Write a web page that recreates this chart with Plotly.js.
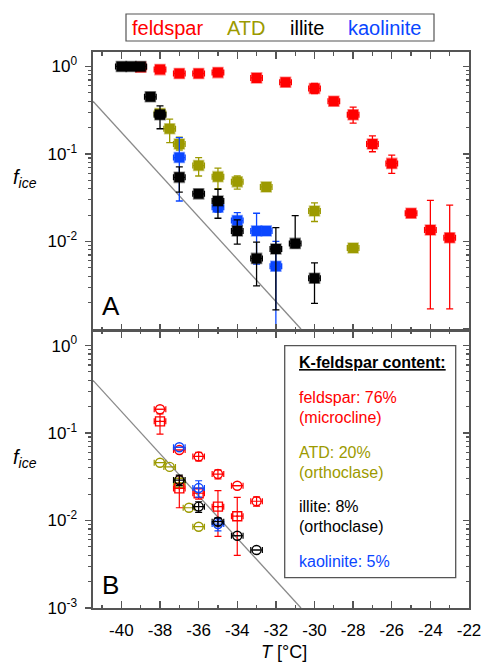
<!DOCTYPE html>
<html><head><meta charset="utf-8">
<script src="https://cdn.plot.ly/plotly-3.0.1.min.js"></script>
<style>html,body{margin:0;padding:0;background:#fff}</style>
</head><body><div id="chart" style="width:483px;height:668px"></div>
<script>
// ---------- Panel A data (filled squares) ----------
const feldA_T = [-39, -38, -37, -36, -35, -33, -31.5, -30, -29, -28, -27, -26, -25, -24, -23];
const feldA_f = [0.98, 0.92, 0.83, 0.83, 0.85, 0.74, 0.66, 0.56, 0.40, 0.28, 0.13, 0.078, 0.021, 0.0135, 0.011];
const feldA_ep = [0.02, 0.03, 0.04, 0.04, 0.04, 0.04, 0.04, 0.08, 0.04, 0.063, 0.031, 0.019, 0.002, 0.016, 0.015];
const feldA_em = [0.02, 0.03, 0.04, 0.04, 0.04, 0.04, 0.04, 0.07, 0.04, 0.055, 0.024, 0.018, 0.002, 0.0118, 0.0093];

const atdA_T = [-38, -37.5, -37, -36, -35, -34, -32.5, -30, -28];
const atdA_f = [0.29, 0.194, 0.13, 0.0737, 0.055, 0.048, 0.042, 0.0223, 0.0084];
const atdA_ep = [0.03, 0.056, 0.026, 0.017, 0.014, 0.008, 0.004, 0.0053, 0.0006];
const atdA_em = [0.03, 0.059, 0.019, 0.0177, 0.015, 0.0084, 0.004, 0.0054, 0.0006];

const kaoA_T = [-37, -35, -34, -33, -32.5, -32];
const kaoA_f = [0.091, 0.0246, 0.0173, 0.0132, 0.0132, 0.0052];
const kaoA_ep = [0.063, 0.003, 0.004, 0.0078, 0.001, 0.0048];
const kaoA_em = [0.062, 0.003, 0.003, 0.0077, 0.001, 0.0043];

const illA_T = [-40, -39.5, -39, -38.5, -38, -37, -36, -35, -34, -33, -32, -31, -30];
const illA_f = [1.0, 1.0, 1.0, 0.45, 0.28, 0.054, 0.035, 0.029, 0.0132, 0.0064, 0.0082, 0.0095, 0.0038];
const illA_ep = [0.01, 0.01, 0.01, 0.02, 0.075, 0.017, 0.002, 0.0105, 0.0044, 0.0034, 0.0062, 0.0102, 0.0019];
const illA_em = [0.01, 0.01, 0.01, 0.02, 0.086, 0.0174, 0.002, 0.0106, 0.0039, 0.0033, 0.00655, 0.001, 0.00184];

// ---------- Panel B data (open symbols) ----------
const feldB_circ_T = [-38, -37, -36, -35, -34, -33];
const feldB_circ_f = [0.187, 0.064, 0.054, 0.034, 0.025, 0.0166];
const feldB_circ_e = [0, 0, 0.006, 0.004, 0, 0.002];
const feldB_sq_T = [-38, -37, -36, -35, -34];
const feldB_sq_f = [0.136, 0.0233, 0.0205, 0.0144, 0.0112];
const feldB_sq_ep = [0.03, 0.009, 0.003, 0.0076, 0.0072];
const feldB_sq_em = [0.039, 0.0093, 0.003, 0.0078, 0.0072];

const atdB_circ_T = [-38, -37.5, -36.5, -36];
const atdB_circ_f = [0.0458, 0.041, 0.014, 0.0085];
const atdB_sq_T = [-37];
const atdB_sq_f = [0.027];

const illB_circ_T = [-37, -36, -35, -34, -33];
const illB_circ_f = [0.029, 0.0144, 0.0097, 0.0067, 0.0046];
const illB_circ_e = [0.004, 0.002, 0.001, 0, 0];

const kaoB_circ_T = [-37, -36, -35];
const kaoB_circ_f = [0.0688, 0.0235, 0.0091];
const kaoB_circ_e = [0, 0.005, 0.0015];

// reference line (end points)
const refLine_T = [-41.47, -30.7];
const refLine_f = [0.40, 0.001];

// tick labels
const xTickVals = [-40, -38, -36, -34, -32, -30, -28, -26, -24, -22];
const xTickText = ['-40', '-38', '-36', '-34', '-32', '-30', '-28', '-26', '-24', '-22'];
const yTickValsA = [1, 0.1, 0.01];
const yTickTextA = ['10<sup>0</sup>', '10<sup>-1</sup>', '10<sup>-2</sup>'];
const yTickValsB = [1, 0.1, 0.01, 0.001];
const yTickTextB = ['10<sup>0</sup>', '10<sup>-1</sup>', '10<sup>-2</sup>', '10<sup>-3</sup>'];

const C = {feld: '#ff0000', atd: '#9c9a00', ill: '#000000', kao: '#0a46ff'};
const halo = {feld: 'rgba(255,0,0,0.45)', atd: 'rgba(156,154,0,0.45)', ill: 'rgba(0,0,0,0.45)', kao: 'rgba(10,70,255,0.45)'};
const FONT = 'Liberation Sans, Arial, Helvetica, sans-serif';

function filled(T, f, ep, em, key) {
  return {
    type: 'scatter', mode: 'markers', x: T, y: f, xaxis: 'x2', yaxis: 'y2',
    marker: {symbol: 'square', size: 10, color: C[key], line: {color: halo[key], width: 1.6}},
    error_y: {type: 'data', symmetric: false, array: ep, arrayminus: em, color: C[key], thickness: 1.3, width: 3.5},
    error_x: {type: 'constant', value: 0.3, color: C[key], thickness: 1.3, width: 3},
    showlegend: false, hoverinfo: 'x+y'
  };
}
function openSym(T, f, e, key, sym, em) {
  const t = {
    type: 'scatter', mode: 'markers', x: T, y: f, xaxis: 'x', yaxis: 'y',
    marker: {symbol: sym, size: 9, color: C[key], line: {color: C[key], width: 1.4}},
    error_x: {type: 'constant', value: 0.3, color: C[key], thickness: 1.2, width: 3},
    showlegend: false, hoverinfo: 'x+y'
  };
  if (e) t.error_y = em ? {type: 'data', symmetric: false, array: e, arrayminus: em, color: C[key], thickness: 1.2, width: 3.5}
                        : {type: 'data', array: e, color: C[key], thickness: 1.2, width: 3.5};
  return t;
}

const refStyle = {color: '#8a8a8a', width: 1.3};
const traces = [
  {type: 'scatter', mode: 'lines', x: refLine_T, y: refLine_f, xaxis: 'x2', yaxis: 'y2', line: refStyle, showlegend: false, hoverinfo: 'skip'},
  {type: 'scatter', mode: 'lines', x: refLine_T, y: refLine_f, xaxis: 'x', yaxis: 'y', line: refStyle, showlegend: false, hoverinfo: 'skip'},
  filled(feldA_T, feldA_f, feldA_ep, feldA_em, 'feld'),
  filled(atdA_T, atdA_f, atdA_ep, atdA_em, 'atd'),
  filled(kaoA_T, kaoA_f, kaoA_ep, kaoA_em, 'kao'),
  filled(illA_T, illA_f, illA_ep, illA_em, 'ill'),
  openSym(atdB_circ_T, atdB_circ_f, null, 'atd', 'circle-open'),
  openSym(atdB_sq_T, atdB_sq_f, null, 'atd', 'square-open-dot'),
  openSym(feldB_sq_T, feldB_sq_f, feldB_sq_ep, 'feld', 'square-open-dot', feldB_sq_em),
  openSym(feldB_circ_T, feldB_circ_f, feldB_circ_e, 'feld', 'circle-open'),
  openSym(kaoB_circ_T, kaoB_circ_f, kaoB_circ_e, 'kao', 'circle-open'),
  openSym(illB_circ_T, illB_circ_f, illB_circ_e, 'ill', 'circle-open'),
  // empty traces to realise the right-hand tick axes
  {type: 'scatter', x: [], y: [], xaxis: 'x', yaxis: 'y3', showlegend: false},
  {type: 'scatter', x: [], y: [], xaxis: 'x2', yaxis: 'y4', showlegend: false}
];

const minorY = [];
for (let d = -3; d <= -1; d++) for (let k = 2; k <= 9; k++) minorY.push(k * Math.pow(10, d));

const axCol = '#555';
function xAx(anchor, labels) {
  return {
    anchor: anchor, range: [-41.47, -22], showgrid: false, zeroline: false,
    showline: true, linecolor: axCol, linewidth: 1.6, mirror: 'ticks',
    tickmode: 'array', tickvals: xTickVals, ticktext: xTickText,
    ticks: 'inside', ticklen: 7, tickwidth: 1.3, tickcolor: axCol,
    minor: {ticks: 'inside', ticklen: 3.5, tickwidth: 1.2, tickcolor: axCol, dtick: 1, tick0: 0},
    showticklabels: labels, ticklabelstandoff: 6,
    tickfont: {family: FONT, size: 17, color: '#000'}
  };
}
function yAx(domain, range, vals, text) {
  return {
    domain: domain, type: 'log', range: range, anchor: domain[0] === 0 ? 'x' : 'x2',
    showgrid: false, zeroline: false, showline: true, linecolor: axCol, linewidth: 1.6, mirror: true,
    tickmode: 'array', tickvals: vals, ticktext: text,
    ticks: 'outside', ticklen: 6, tickwidth: 1.3, tickcolor: axCol,
    minor: {ticks: 'outside', ticklen: 3, tickwidth: 1.1, tickcolor: axCol, tickmode: 'array', tickvals: minorY},
    ticklabelstandoff: 5, tickfont: {family: FONT, size: 17, color: '#000'}
  };
}
function yRight(over, range, anchorX) {
  return {
    overlaying: over, side: 'right', anchor: anchorX, type: 'log', range: range,
    showgrid: false, zeroline: false, showline: false, showticklabels: false,
    tickmode: 'array', tickvals: [1, 0.1, 0.01, 0.001],
    ticks: 'inside', ticklen: 6, tickwidth: 1.3, tickcolor: axCol,
    minor: {ticks: 'inside', ticklen: 3, tickwidth: 1.1, tickcolor: axCol, tickmode: 'array', tickvals: minorY}
  };
}

const L = 93, R = 14, TOP = 52, B = 60, W = 483, H = 668;
const PW = W - L - R, PH = H - TOP - B;
const px = x => (x - L) / PW;
const py = y => (H - B - y) / PH;

function ann(x, y, text, size, color, opts) {
  return Object.assign({xref: 'paper', yref: 'paper', x: px(x), y: py(y), text: text, showarrow: false,
    font: {family: FONT, size: size, color: color}, xanchor: 'center', yanchor: 'middle'}, opts || {});
}

const annotations = [
  ann(167.4, 28, 'feldspar', 20, C.feld),
  ann(246.3, 28, 'ATD', 20, C.atd),
  ann(307, 28, 'illite', 20, C.ill),
  ann(384.8, 28, 'kaolinite', 20, C.kao),
  ann(25, 178, '<i>f</i><sub><i>ice</i></sub>', 20, '#000'),
  ann(25, 458, '<i>f</i><sub><i>ice</i></sub>', 20, '#000'),
  ann(284, 652, '<i>T</i> [°C]', 18, '#000'),
  ann(111, 306, 'A', 26, '#000'),
  ann(110.5, 584.5, 'B', 26, '#000'),
  ann(296.7, 362.7, '<b><u>K-feldspar content:</u></b>', 16, '#000', {xanchor: 'left'}),
  ann(296.7, 397.3, 'feldspar: 76%', 16, C.feld, {xanchor: 'left'}),
  ann(296.7, 417.3, '(microcline)', 16, C.feld, {xanchor: 'left'}),
  ann(296.7, 452.7, 'ATD: 20%', 16, C.atd, {xanchor: 'left'}),
  ann(296.7, 472.0, '(orthoclase)', 16, C.atd, {xanchor: 'left'}),
  ann(296.7, 506.7, 'illite: 8%', 16, C.ill, {xanchor: 'left'}),
  ann(296.7, 526.7, '(orthoclase)', 16, C.ill, {xanchor: 'left'}),
  ann(296.7, 561.7, 'kaolinite: 5%', 16, C.kao, {xanchor: 'left'})
];

const shapes = [
  {type: 'rect', xref: 'paper', yref: 'paper', x0: px(126), x1: px(434), y0: py(14), y1: py(41),
   line: {color: '#555', width: 1.2}, fillcolor: 'rgba(0,0,0,0)'},
  {type: 'rect', xref: 'paper', yref: 'paper', x0: px(284.7), x1: px(455.7), y0: py(345.7), y1: py(577.7),
   line: {color: '#555', width: 1.3}, fillcolor: '#fff', layer: 'above'}
];

const split = (H - B - 330.7) / PH;
const layout = {
  width: W, height: H, margin: {l: L, r: R, t: TOP, b: B},
  paper_bgcolor: '#fff', plot_bgcolor: '#fff',
  font: {family: FONT, size: 16, color: '#000'},
  showlegend: false,
  xaxis: xAx('y', true),
  xaxis2: Object.assign(xAx('y2', false), {matches: 'x'}),
  yaxis: yAx([0, split], [-3, 0.17], yTickValsB, yTickTextB),
  yaxis2: yAx([split, 1], [-3.02, 0.165], yTickValsA, yTickTextA),
  yaxis3: yRight('y', [-3, 0.17], 'x'),
  yaxis4: yRight('y2', [-3.02, 0.165], 'x2'),
  annotations: annotations, shapes: shapes
};

Plotly.newPlot('chart', traces, layout, {displayModeBar: false, staticPlot: true});
</script></body></html>
